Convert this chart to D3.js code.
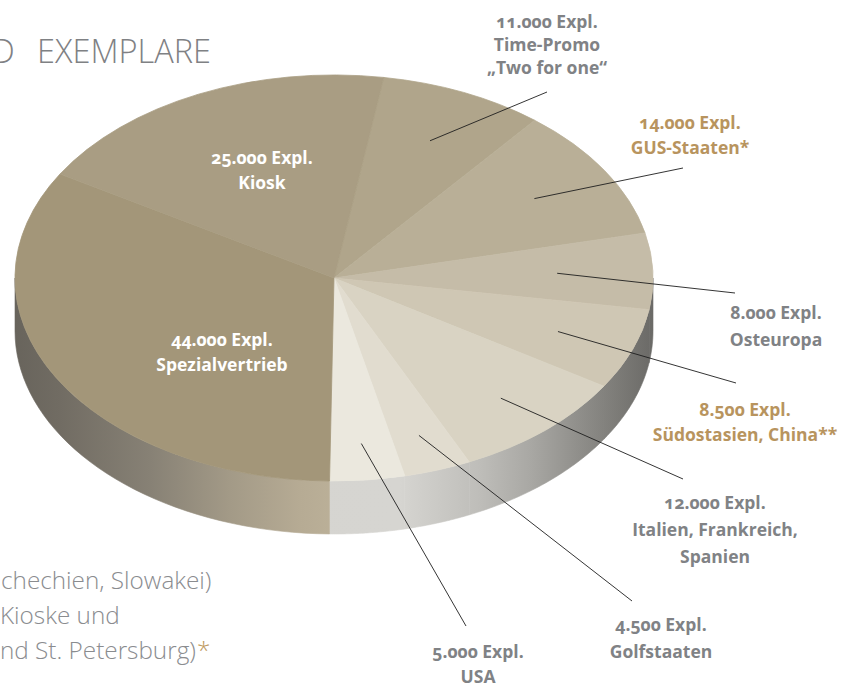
<!DOCTYPE html>
<html><head><meta charset="utf-8">
<script src="https://cdn.jsdelivr.net/npm/d3@7"></script>
<style>
html,body{margin:0;padding:0;background:#fff;}
svg{display:block;}
</style></head><body>
<svg id="c" width="855" height="689"></svg>
<script>
// ---------------- data ----------------
const categories = ["Time-Promo", "GUS-Staaten", "Osteuropa", "Südostasien, China", "Italien, Frankreich, Spanien", "Golfstaaten", "USA", "Spezialvertrieb", "Kiosk"];
const values = [11000, 14000, 8000, 8500, 12000, 4500, 5000, 44000, 25000];
const nameLines = [["Time-Promo", "„Two for one“"], ["GUS-Staaten*"], ["Osteuropa"], ["Südostasien, China**"], ["Italien, Frankreich,", "Spanien"], ["Golfstaaten"], ["USA"], ["Spezialvertrieb"], ["Kiosk"]];
const unitLabel = "Expl.";
const titleText = "D EXEMPLARE";
const footnoteLines = ["chechien, Slowakei)", "Kioske und", "nd St. Petersburg)"];

// ---------------- style / layout ----------------
const W = 855, H = 689;
const cx = 334, cy = 278, rx = 319, ry = 203, depth = 53;
const startDeg = 9;
const topColors = ["#b0a58b", "#b9af97", "#c5bca8", "#cfc7b4", "#d9d3c3", "#e1dccf", "#ebe8de", "#a39679", "#a99d83"];
const sideTone = ["gray", "gray", "gray", "gray", "gray", "gray", "gray", "tan", "tan"];
const labelColor = ["#808285", "#b8945e", "#808285", "#b8945e", "#808285", "#808285", "#808285", "#ffffff", "#ffffff"];
const labelPos = [
  {x: 547, y: 28, lh: 23, end: [547, 92], k: 0.74},
  {x: 690, y: 129, lh: 25, end: [683, 168], k: 0.74},
  {x: 776, y: 319, lh: 27, end: [735, 293], k: 0.70},
  {x: 745, y: 416, lh: 25, end: [736, 383], k: 0.75},
  {x: 715, y: 509, lh: 27, end: [683, 479], k: 0.79},
  {x: 661, y: 631, lh: 27, end: [632, 601], k: 0.82},
  {x: 478, y: 658, lh: 25, end: [466, 626], k: 0.82},
  {x: 222, y: 346, lh: 25, end: null},
  {x: 262, y: 164, lh: 25, end: null}
];

const de = d3.formatLocale({decimal: ",", thousands: ".", grouping: [3], currency: ["", " €"]});
const fmt = de.format(",");

const svg = d3.select("#c");
const defs = svg.append("defs");

function grad(id, stops) {
  const g = defs.append("linearGradient").attr("id", id)
    .attr("gradientUnits", "userSpaceOnUse")
    .attr("x1", cx - rx).attr("x2", cx + rx).attr("y1", 0).attr("y2", 0);
  stops.forEach(([x, c]) => g.append("stop").attr("offset", (x - (cx - rx)) / (2 * rx)).attr("stop-color", c));
}
grad("tan", [[15, "#68645c"], [60, "#716c63"], [150, "#878175"], [230, "#a39a87"], [300, "#b6ab94"], [350, "#bdb29a"], [395, "#b3a890"], [652, "#b3a890"]]);
grad("gray", [[15, "#d5d4d0"], [400, "#d6d5d1"], [440, "#cac9c5"], [480, "#bebdb9"], [530, "#a9a8a4"], [580, "#8f8e8a"], [620, "#7b7a76"], [652, "#6b6a67"]]);

const pie = d3.pie().sort(null).value(d => d)
  .startAngle(startDeg * Math.PI / 180)
  .endAngle(startDeg * Math.PI / 180 + 2 * Math.PI);
const arcs = pie(values);

const P = (a, dy = 0) => [cx + rx * Math.sin(a), cy - ry * Math.cos(a) + dy];

// ---- sides (front half only) ----
const gSide = svg.append("g");
arcs.forEach((d, i) => {
  for (let k = 0; k <= 1; k++) {
    const lo = Math.PI / 2 + 2 * Math.PI * k, hi = 3 * Math.PI / 2 + 2 * Math.PI * k;
    const a0 = Math.max(d.startAngle, lo), a1 = Math.min(d.endAngle, hi);
    if (a1 <= a0) continue;
    const n = 40, top = [], bot = [];
    for (let j = 0; j <= n; j++) {
      const a = a0 + (a1 - a0) * j / n;
      top.push(P(a)); bot.push(P(a, depth));
    }
    const pts = top.concat(bot.reverse());
    gSide.append("path")
      .attr("d", d3.line()(pts) + "Z")
      .attr("fill", `url(#${sideTone[i]})`)
      .attr("stroke", `url(#${sideTone[i]})`).attr("stroke-width", 0.6);
  }
});

// ---- top faces ----
const arc = d3.arc().innerRadius(0).outerRadius(1);
const gTop = svg.append("g").attr("transform", `translate(${cx},${cy}) scale(${rx},${ry})`);
gTop.selectAll("path").data(arcs).join("path")
  .attr("d", arc)
  .attr("fill", (d, i) => topColors[i])
  .attr("stroke", (d, i) => topColors[i])
  .attr("stroke-width", 0.003);

// ---- leader lines ----
arcs.forEach((d, i) => {
  const lp = labelPos[i];
  if (!lp.end) return;
  const m = (d.startAngle + d.endAngle) / 2;
  const s = [cx + rx * lp.k * Math.sin(m), cy - ry * lp.k * Math.cos(m)];
  svg.append("line")
    .attr("x1", s[0]).attr("y1", s[1]).attr("x2", lp.end[0]).attr("y2", lp.end[1])
    .attr("stroke", "#1e1e1e").attr("stroke-width", 0.9);
});

// ---- labels ----
const labelFont = '"Open Sans", "Noto Sans", sans-serif';
arcs.forEach((d, i) => {
  const lp = labelPos[i];
  const lines = [fmt(values[i]) + " " + unitLabel].concat(nameLines[i]);
  const t = svg.append("text")
    .attr("text-anchor", "middle")
    .attr("font-family", labelFont)
    .attr("font-weight", 700)
    .attr("font-size", 17.5)
    .style("font-variant-numeric", "oldstyle-nums")
    .attr("fill", labelColor[i]);
  lines.forEach((ln, j) => t.append("tspan").attr("x", lp.x).attr("y", lp.y + j * lp.lh).text(ln));
});

// ---- title ----
svg.append("text")
  .attr("x", 211).attr("y", 63)
  .attr("text-anchor", "end")
  .attr("font-family", labelFont).attr("font-weight", 300)
  .attr("font-size", 32.5).attr("fill", "#7f8184")
  .attr("word-spacing", 14)
  .text(titleText);

// ---- footnote ----
const fnY = [589, 624, 659];
const fnStart = [1, 0, 0];
const fnSize = 24.3;
footnoteLines.forEach((ln, j) => {
  const t = svg.append("text")
    .attr("x", fnStart[j]).attr("y", fnY[j])
    .attr("font-family", labelFont).attr("font-weight", 300)
    .attr("font-size", fnSize).attr("fill", "#8a8c8f")
    .text(ln);
  if (j === 2) t.append("tspan").attr("fill", "#c09a60").attr("dx", 1).text("*");
});
</script>
</body></html>
